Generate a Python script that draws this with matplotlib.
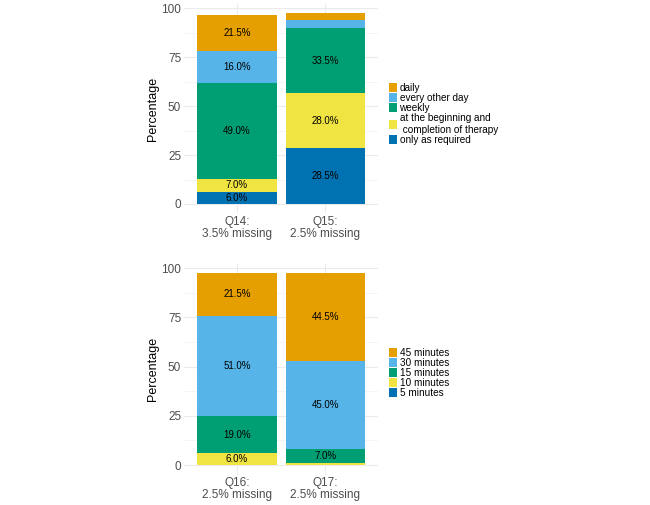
import numpy as np
import matplotlib
matplotlib.use("Agg")
import matplotlib.pyplot as plt
from matplotlib.patches import Patch

plt.rcParams["font.family"] = ["Liberation Sans", "DejaVu Sans"]

# =========================
# Data
# =========================

top_questions = ["Q14:\n3.5% missing", "Q15:\n2.5% missing"]
top_levels = ["only as required", "at the beginning and\n completion of therapy",
              "weekly", "every other day", "daily"]
top_values = {
    "only as required": [6.0, 28.5],
    "at the beginning and\n completion of therapy": [7.0, 28.0],
    "weekly": [49.0, 33.5],
    "every other day": [16.0, 4.0],
    "daily": [18.5, 3.5],
}
top_labels = {
    "only as required": ["6.0%", "28.5%"],
    "at the beginning and\n completion of therapy": ["7.0%", "28.0%"],
    "weekly": ["49.0%", "33.5%"],
    "every other day": ["16.0%", ""],
    "daily": ["21.5%", ""],
}

bottom_questions = ["Q16:\n2.5% missing", "Q17:\n2.5% missing"]
bottom_levels = ["5 minutes", "10 minutes", "15 minutes", "30 minutes", "45 minutes"]
bottom_values = {
    "5 minutes": [0.0, 0.0],
    "10 minutes": [6.0, 1.0],
    "15 minutes": [19.0, 7.0],
    "30 minutes": [51.0, 45.0],
    "45 minutes": [21.5, 44.5],
}
bottom_labels = {
    "5 minutes": ["", ""],
    "10 minutes": ["6.0%", ""],
    "15 minutes": ["19.0%", "7.0%"],
    "30 minutes": ["51.0%", "45.0%"],
    "45 minutes": ["21.5%", "44.5%"],
}

colors = ["#0072B2", "#F0E442", "#009E73", "#56B4E9", "#E69F00"]

# =========================
# Figure
# =========================

W, H = 650, 505
fig = plt.figure(figsize=(W / 100, H / 100), dpi=100)


def panel(rect, questions, levels, values, labels, leg_xy):
    ax = fig.add_axes(rect)
    x = np.arange(len(questions))
    bottom = np.zeros(len(questions))
    for lev, col in zip(levels, colors):
        vals = np.array(values[lev])
        ax.bar(x, vals, width=0.9, bottom=bottom, color=col, zorder=2)
        for xi, b, v, lab in zip(x, bottom, vals, labels[lev]):
            if lab:
                ax.text(xi, b + v / 2, lab, ha="center", va="center",
                        fontsize=7, color="black", zorder=3)
        bottom = bottom + vals

    ax.set_xlim(-0.6, len(questions) - 0.4)
    ax.set_ylim(-4.875, 102.4)
    ax.set_yticks([0, 25, 50, 75, 100])
    ax.set_yticks([12.5, 37.5, 62.5, 87.5], minor=True)
    ax.set_xticks(x)
    ax.set_xticklabels(questions, linespacing=1.0)
    ax.tick_params(axis="both", which="both", length=0, labelsize=8.5,
                   labelcolor="#4d4d4d")
    ax.tick_params(axis="y", pad=2)
    ax.tick_params(axis="x", pad=2)
    ax.grid(True, which="major", color="#ebebeb", linewidth=0.8, zorder=0)
    ax.grid(True, which="minor", axis="y", color="#f2f2f2", linewidth=0.5, zorder=0)
    for s in ax.spines.values():
        s.set_visible(False)
    ax.set_ylabel("Percentage", fontsize=9, labelpad=1.5)

    handles = [Patch(facecolor=c, edgecolor="none") for c in colors[::-1]]
    fig.legend(handles, levels[::-1], loc="upper left",
               bbox_to_anchor=leg_xy, frameon=False, fontsize=7.2,
               handlelength=0.8, handleheight=1.0, labelspacing=0,
               handletextpad=0.25, borderpad=0, borderaxespad=0)
    return ax


panel([184 / W, 1 - 213.5 / H, 194.3 / W, 209.9 / H],
      top_questions, top_levels, top_values, top_labels,
      (389 / W, 1 - 83 / H))

panel([184 / W, 1 - 474.6 / H, 194.3 / W, 211 / H],
      bottom_questions, bottom_levels, bottom_values, bottom_labels,
      (389 / W, 1 - 348 / H))

fig.savefig("out.png", dpi=100)
